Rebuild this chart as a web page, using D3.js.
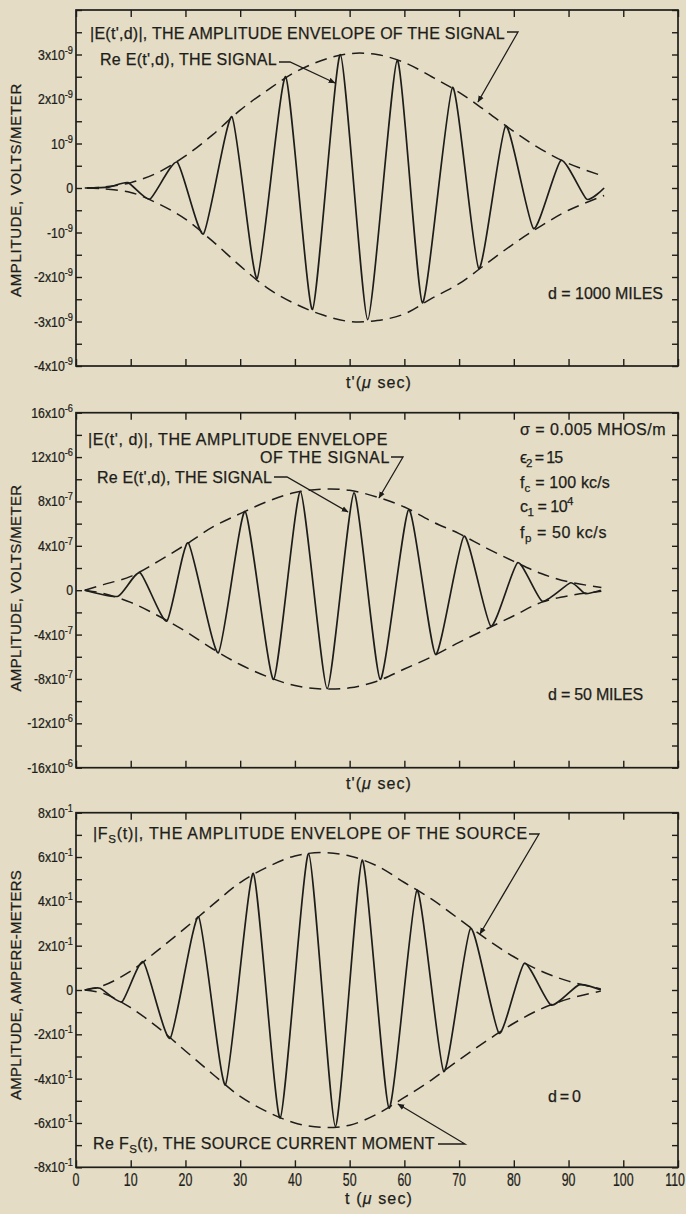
<!DOCTYPE html>
<html>
<head>
<meta charset="utf-8">
<script src="https://cdnjs.cloudflare.com/ajax/libs/d3/7.8.5/d3.min.js"></script>
<style>
html, body { margin: 0; padding: 0; background: #e4dcc4; }
svg { display: block; }
text { font-family: "Liberation Sans", Arial, sans-serif; fill: #1d1d1b; stroke: #1d1d1b; stroke-width: 0.25px; }
</style>
</head>
<body>
<svg id="chart" width="686" height="1214"></svg>
<script>
// time axis (micro seconds)
var tTicks = [0, 10, 20, 30, 40, 50, 60, 70, 80, 90, 100, 110];
var tTickLabels = ["0", "10", "20", "30", "40", "50", "60", "70", "80", "90", "100", "110"];

// panel 1 : d = 1000 miles (units of 1e-9 V/m)
var p1TickVals = [-4, -3, -2, -1, 0, 1, 2, 3];
var p1TickLabels = ["-4x10^-9", "-3x10^-9", "-2x10^-9", "-10^-9", "0", "10^-9", "2x10^-9", "3x10^-9"];
var p1Signal = [[1.6, 0], [6, 0.02], [9.5, 0.12], [13.5, -0.25], [18.5, 0.58], [23.3, -1.03], [28.5, 1.6],
  [33.1, -2.03], [38.3, 2.5], [43.2, -2.73], [48.3, 3.0], [53.3, -2.96], [58.7, 2.87], [63.3, -2.58],
  [68.8, 2.26], [73.6, -1.81], [78.5, 1.39], [83.6, -0.91], [88.6, 0.62], [93.3, -0.25], [96.5, 0]];
var p1EnvUpper = [[2, 0], [5, 0.02], [10, 0.12], [15, 0.35], [20, 0.72], [25, 1.2], [30, 1.75], [35, 2.2],
  [40, 2.6], [45, 2.87], [50, 3.02], [55, 3.0], [60, 2.82], [65, 2.5], [70, 2.15], [75, 1.72], [80, 1.27],
  [85, 0.87], [90, 0.55], [96.5, 0.26]];
var p1EnvLower = [[2, 0], [5, -0.02], [10, -0.1], [15, -0.35], [20, -0.7], [25, -1.2], [30, -1.75], [35, -2.25],
  [40, -2.6], [45, -2.85], [50, -3.0], [55, -2.98], [60, -2.83], [65, -2.48], [70, -2.15], [75, -1.7],
  [80, -1.25], [85, -0.85], [90, -0.5], [96.5, -0.17]];

// panel 2 : d = 50 miles (units of 1e-7 V/m)
var p2TickVals = [-16, -12, -8, -4, 0, 4, 8, 12, 16];
var p2TickLabels = ["-16x10^-6", "-12x10^-6", "-8x10^-7", "-4x10^-7", "0", "4x10^-7", "8x10^-7", "12x10^-6", "16x10^-6"];
var p2Signal = [[1.6, 0], [7.7, -0.54], [11.7, 1.57], [16.6, -2.79], [20.5, 4.27], [26, -5.64], [30.9, 7.1],
  [36.1, -8.04], [41, 8.9], [45.9, -8.88], [50.8, 8.77], [55.6, -8.04], [60.8, 7.27], [65.7, -5.79],
  [70.9, 4.87], [75.8, -3.24], [80.7, 2.47], [85.2, -0.99], [90.4, 0.67], [93, -0.3], [95.9, 0]];
var p2EnvUpper = [[1.6, 0], [5, 0.5], [10, 1.25], [15, 2.6], [20, 4.1], [25, 5.7], [30, 6.9], [35, 8.0],
  [40, 8.8], [45, 9.1], [50, 9.0], [55, 8.4], [60, 7.5], [65, 6.2], [70, 5.1], [75, 3.8], [80, 2.6],
  [85, 1.5], [90, 0.75], [96, 0.25]];
var p2EnvLower = [[1.6, 0], [5, -0.3], [10, -1.1], [15, -2.3], [20, -3.7], [25, -5.3], [30, -6.7], [35, -7.8],
  [40, -8.6], [45, -8.9], [50, -8.8], [55, -8.2], [60, -7.1], [65, -6.0], [70, -4.7], [75, -3.5], [80, -2.3],
  [85, -1.1], [90, -0.5], [96, -0.1]];

// panel 3 : d = 0, source (units of 1e-1 A-m)
var p3TickVals = [-8, -6, -4, -2, 0, 2, 4, 6, 8];
var p3TickLabels = ["-8x10^-1", "-6x10^-1", "-4x10^-1", "-2x10^-1", "0", "2x10^-1", "4x10^-1", "6x10^-1", "8x10^-1"];
var p3Signal = [[1.6, 0], [4.4, 0.08], [8.4, -0.53], [12.3, 1.27], [17.2, -2.18], [22.4, 3.3], [27.3, -4.28],
  [32.4, 5.26], [37.3, -5.78], [42.5, 6.16], [47.4, -6.16], [52.3, 5.86], [57.2, -5.33], [62.3, 4.5],
  [67.2, -3.68], [72.1, 2.78], [77.3, -1.95], [81.9, 1.2], [86.8, -0.68], [91.9, 0.23], [95.9, 0]];
var p3EnvUpper = [[1.6, 0], [5, 0.2], [10, 0.85], [15, 1.8], [20, 2.8], [25, 3.85], [30, 4.85], [35, 5.55],
  [40, 6.05], [45, 6.2], [50, 6.05], [55, 5.6], [60, 4.85], [65, 4.1], [70, 3.2], [75, 2.3], [80, 1.5],
  [85, 0.85], [90, 0.4], [95.9, 0.05]];
var p3EnvLower = [[1.6, 0], [5, -0.15], [10, -0.8], [15, -1.7], [20, -2.75], [25, -3.8], [30, -4.8], [35, -5.5],
  [40, -6.0], [45, -6.2], [50, -6.1], [55, -5.6], [60, -4.85], [65, -4.05], [70, -3.15], [75, -2.3],
  [80, -1.5], [85, -0.85], [90, -0.4], [95.9, -0.05]];

var ink = "#1d1d1b";
var svg = d3.select("#chart");
var x = d3.scaleLinear().domain([0, 110]).range([76, 678]);

svg.append("defs").append("marker")
  .attr("id", "arrow")
  .attr("viewBox", "0 0 10 10")
  .attr("refX", 9).attr("refY", 5)
  .attr("markerWidth", 7).attr("markerHeight", 7)
  .attr("markerUnits", "userSpaceOnUse")
  .attr("orient", "auto")
  .append("path").attr("d", "M0,1 L10,5 L0,9 z").attr("fill", ink);

// text with optional sub / superscript parts, spread to a given width
function label(g, xPos, yPos, parts, width, size) {
  size = size || 16;
  var t = g.append("text").attr("x", xPos).attr("y", yPos).attr("font-size", size);
  var shift = 0;
  parts.forEach(function(pt) {
    var s = typeof pt === "string" ? {t: pt} : pt;
    var target = s.sub ? 4 : (s.sup ? -7 : 0);
    var ts = t.append("tspan").text(s.t).attr("dy", target - shift);
    shift = target;
    if (s.sub || s.sup) ts.attr("font-size", size * 0.72);
    if (s.it) ts.attr("font-style", "italic");
  });
  if (width) {
    var w = t.node().getComputedTextLength();
    var n = t.text().length;
    t.attr("letter-spacing", (width - w) / n);
  }
  return t;
}

function tickLabel(g, yPos, str) {
  var bits = str.split("^");
  var t = g.append("text")
    .attr("transform", "translate(73," + (yPos + 5) + ") scale(0.88,1)")
    .attr("text-anchor", "end")
    .attr("font-size", 14);
  t.append("tspan").text(bits[0]);
  if (bits[1]) t.append("tspan").text(bits[1]).attr("dy", -6).attr("font-size", 10.5);
}

function leader(g, pts) {
  g.append("path")
    .attr("d", d3.line()(pts))
    .attr("fill", "none").attr("stroke", ink).attr("stroke-width", 1.3)
    .attr("marker-end", "url(#arrow)");
}

function drawPanel(p) {
  var y = d3.scaleLinear().domain([-p.ymax, p.ymax]).range([p.bottom, p.top]);
  var g = svg.append("g");
  var minor = d3.range(-p.ymax, p.ymax + p.step / 2, p.step);

  g.append("g").attr("transform", "translate(" + x(0) + ",0)")
    .call(d3.axisLeft(y).tickValues(minor).tickSize(-6).tickFormat(""));
  g.append("g").attr("transform", "translate(" + x(110) + ",0)")
    .call(d3.axisRight(y).tickValues(minor).tickSize(-6).tickFormat(""));
  g.append("g").attr("transform", "translate(0," + p.top + ")")
    .call(d3.axisTop(x).tickValues(tTicks).tickSize(-7).tickFormat(""));
  g.append("g").attr("transform", "translate(0," + p.bottom + ")")
    .call(d3.axisBottom(x).tickValues(tTicks).tickSize(-7).tickFormat(""));
  g.selectAll(".domain").remove();
  g.selectAll(".tick line").attr("stroke", ink).attr("stroke-width", 1.4);

  g.append("rect")
    .attr("x", x(0)).attr("y", p.top)
    .attr("width", x(110) - x(0)).attr("height", p.bottom - p.top)
    .attr("fill", "none").attr("stroke", ink).attr("stroke-width", 1.7);

  p.tickVals.forEach(function(v, i) { tickLabel(g, y(v), p.tickLabels[i]); });

  var envLine = d3.line().x(function(d) { return x(d[0]); }).y(function(d) { return y(d[1]); })
    .curve(d3.curveCatmullRom);
  [p.envUpper, p.envLower].forEach(function(env) {
    g.append("path").datum(env).attr("d", envLine)
      .attr("fill", "none").attr("stroke", ink).attr("stroke-width", 1.5)
      .attr("stroke-dasharray", "12,7");
  });

  // near-straight flanks with rounded tips, as drawn in the original
  var sigLine = d3.line().x(function(d) { return x(d[0]); }).y(function(d) { return y(d[1]); })
    .curve(d3.curveCardinal.tension(0.45));
  g.append("path").datum(p.signal).attr("d", sigLine)
    .attr("fill", "none").attr("stroke", ink).attr("stroke-width", 1.7)
    .attr("stroke-linejoin", "round");

  // y axis title
  var yt = g.append("text")
    .attr("transform", "translate(21," + p.titleY + ") rotate(-90)")
    .attr("text-anchor", "middle").attr("font-size", 15)
    .text(p.title);
  var w = yt.node().getComputedTextLength();
  yt.attr("letter-spacing", (p.titleLen - w) / p.title.length);
  return g;
}

var g1 = drawPanel({top: 10, bottom: 366, ymax: 4, step: 0.5, tickVals: p1TickVals, tickLabels: p1TickLabels,
  signal: p1Signal, envUpper: p1EnvUpper, envLower: p1EnvLower,
  title: "AMPLITUDE, VOLTS/METER", titleY: 190, titleLen: 214});
var g2 = drawPanel({top: 412.7, bottom: 767.7, ymax: 16, step: 2, tickVals: p2TickVals, tickLabels: p2TickLabels,
  signal: p2Signal, envUpper: p2EnvUpper, envLower: p2EnvLower,
  title: "AMPLITUDE, VOLTS/METER", titleY: 588, titleLen: 207});
var g3 = drawPanel({top: 812.7, bottom: 1167.3, ymax: 8, step: 1, tickVals: p3TickVals, tickLabels: p3TickLabels,
  signal: p3Signal, envUpper: p3EnvUpper, envLower: p3EnvLower,
  title: "AMPLITUDE, AMPERE-METERS", titleY: 985, titleLen: 230});

// panel 1 notes
label(g1, 90, 39, ["|E(t',d)|, THE AMPLITUDE ENVELOPE OF THE SIGNAL"], 415);
label(g1, 100, 65, ["Re E(t',d), THE SIGNAL"], 177);
label(g1, 548, 299, ["d = 1000 MILES"], 115);
leader(g1, [[507, 32], [518, 32], [478, 102]]);
leader(g1, [[279, 62], [290, 62], [335, 83]]);
label(g1, 346, 388, ["t'(", {t: "\u03bc", it: true}, " sec)"], 66);

// panel 2 notes
label(g2, 88, 445, ["|E(t', d)|, THE AMPLITUDE ENVELOPE"], 300);
label(g2, 260, 463, ["OF THE SIGNAL"], 130);
label(g2, 97, 483, ["Re E(t',d), THE SIGNAL"], 175);
label(g2, 520, 435, ["\u03c3 = 0.005 MHOS/m"], 146);
label(g2, 520, 463, ["\u03f5", {t: "2", sub: true}, " = 15"], 42);
label(g2, 520, 488, ["f", {t: "c", sub: true}, " = 100 kc/s"], 90);
label(g2, 520, 512, ["c", {t: "1", sub: true}, " = 10", {t: "4", sup: true}], 53);
label(g2, 520, 538, ["f", {t: "p", sub: true}, " = 50 kc/s"], 87);
label(g2, 548, 700, ["d = 50 MILES"], 95);
leader(g2, [[391, 457], [403, 457], [379, 498]]);
leader(g2, [[274, 477], [287, 477], [348, 512]]);
label(g2, 346, 789, ["t'(", {t: "\u03bc", it: true}, " sec)"], 66);

// panel 3 notes
label(g3, 93, 839, ["|F", {t: "S", sub: true}, "(t)|, THE AMPLITUDE ENVELOPE OF THE SOURCE"], 435);
label(g3, 93, 1149, ["Re F", {t: "S", sub: true}, "(t), THE SOURCE CURRENT MOMENT"], 342);
label(g3, 548, 1102, ["d = 0"], 32);
leader(g3, [[529, 834], [539, 834], [480, 934]]);
leader(g3, [[438, 1144], [465, 1144], [398, 1104]]);
label(g3, 345, 1204, ["t (", {t: "\u03bc", it: true}, " sec)"], 68);

// time tick labels under the last panel (last one kept inside the page)
tTicks.forEach(function(v, i) {
  var last = i === tTicks.length - 1;
  g3.append("text")
    .attr("transform", "translate(" + (last ? 685 : x(v)) + ",1186) scale(0.65,1)")
    .attr("text-anchor", last ? "end" : "middle").attr("font-size", 19)
    .text(tTickLabels[i]);
});
</script>
</body>
</html>
